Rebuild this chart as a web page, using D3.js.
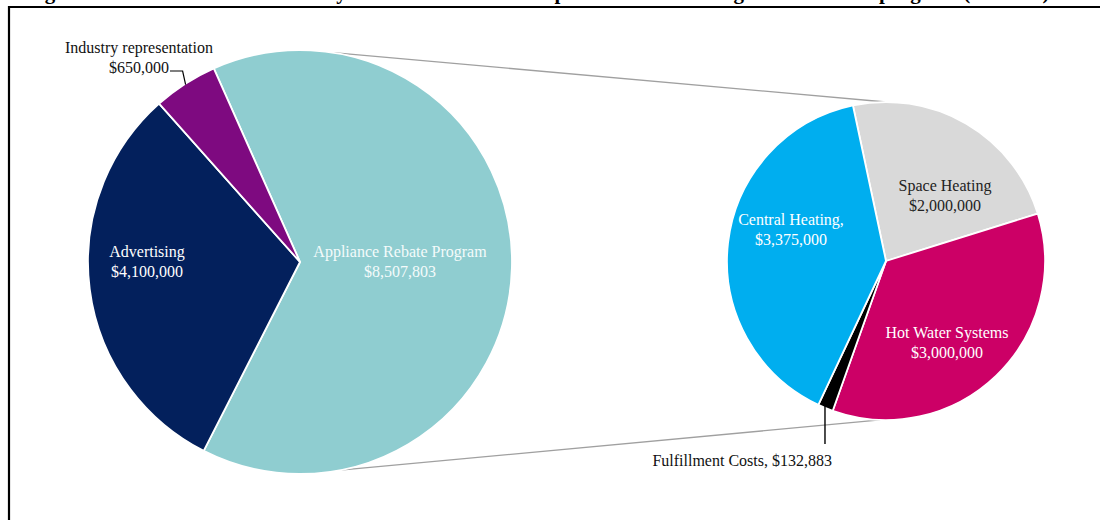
<!DOCTYPE html>
<html>
<head>
<meta charset="utf-8">
<script src="https://cdn.jsdelivr.net/npm/d3@7/dist/d3.min.js"></script>
<style>
  html, body { margin: 0; padding: 0; background: #fff; }
  svg { display: block; }
  text { font-family: "Liberation Serif", "Times New Roman", serif; }
</style>
</head>
<body>
<svg id="chart" width="1100" height="520"></svg>
<script>
// Overall budget split
const overviewCategories = ["Appliance Rebate Program", "Advertising", "Industry representation"];
const overviewValues = [8507803, 4100000, 650000];
const overviewColors = ["#8fcdd0", "#03205c", "#7e0a80"];

// Breakdown of the Appliance Rebate Program
const rebateCategories = ["Space Heating", "Hot Water Systems", "Fulfillment Costs", "Central Heating"];
const rebateValues = [2000000, 3000000, 132883, 3375000];
const rebateColors = ["#d9d9d9", "#cc0066", "#000000", "#00aeef"];

const titleText = "Figure 4: Breakdown of total outlays and of the rebate component of the heating and hot water program (2010–11)";

const svg = d3.select("#chart");
const fmt = d3.format("$,");
const deg = Math.PI / 180;

// frame
svg.append("path")
  .attr("d", "M9,530 L9,7 L1110,7")
  .attr("fill", "none").attr("stroke", "#000").attr("stroke-width", 2.2);

// title, sitting above the frame at the very top of the page
svg.append("text")
  .attr("x", 26).attr("y", -1.5)
  .attr("font-size", 21).attr("font-weight", "bold")
  .attr("fill", "#000")
  .text(titleText);

// pie geometry
const left = { cx: 300, cy: 262, r: 212, start: -24 };
const right = { cx: 886, cy: 261, r: 159, start: -12 };

function pt(p, angleDeg, rad) {
  const a = angleDeg * deg;
  return [p.cx + rad * Math.sin(a), p.cy - rad * Math.cos(a)];
}

// connector lines between the two pies
const connectors = [
  [pt(left, 9, left.r), pt(right, 0, right.r)],
  [pt(left, 169, left.r), pt(right, 182, right.r)]
];
svg.selectAll("line.conn").data(connectors).enter().append("line")
  .attr("class", "conn")
  .attr("x1", d => d[0][0]).attr("y1", d => d[0][1])
  .attr("x2", d => d[1][0]).attr("y2", d => d[1][1])
  .attr("stroke", "#a0a0a0").attr("stroke-width", 1.3);

function drawPie(p, cats, vals, colors) {
  const pie = d3.pie().sort(null).value(d => d.v)
    .startAngle(p.start * deg).endAngle(p.start * deg + 2 * Math.PI);
  const arcs = pie(cats.map((c, i) => ({ c, v: vals[i], color: colors[i] })));
  const arc = d3.arc().innerRadius(0).outerRadius(p.r);
  const g = svg.append("g").attr("transform", `translate(${p.cx},${p.cy})`);
  g.selectAll("path").data(arcs).enter().append("path")
    .attr("d", arc)
    .attr("fill", d => d.data.color)
    .attr("stroke", "#fff").attr("stroke-width", 1.8)
    .attr("stroke-linejoin", "round");
  return { g, arcs };
}

const L = drawPie(left, overviewCategories, overviewValues, overviewColors);
const R = drawPie(right, rebateCategories, rebateValues, rebateColors);

// two-line labels placed relative to each pie centre
function twoLine(p, dx, y1, lines, color) {
  const t = svg.append("text")
    .attr("text-anchor", "middle")
    .attr("font-size", 16).attr("fill", color);
  lines.forEach((s, i) => {
    t.append("tspan").attr("x", p.cx + dx).attr("y", p.cy + y1 + i * 19.5).text(s);
  });
}

twoLine(left, 100, -5, [overviewCategories[0], fmt(overviewValues[0])], "#f4fbfb");
twoLine(left, -153, -5, [overviewCategories[1], fmt(overviewValues[1])], "#ffffff");
twoLine(left, -161, -209, [overviewCategories[2], fmt(overviewValues[2])], "#111");

twoLine(right, 59, -70, [rebateCategories[0], fmt(rebateValues[0])], "#222");
twoLine(right, -95, -36, [rebateCategories[3] + ",", fmt(rebateValues[3])], "#ffffff");
twoLine(right, 61, 77, [rebateCategories[1], fmt(rebateValues[1])], "#ffffff");

// leader for the small overview slice
{
  const a = L.arcs[2];
  const mid = (a.startAngle + a.endAngle) / 2 / deg;
  const e = pt(left, mid, left.r - 1);
  const elbow = [e[0] - 3, left.cy - 191];
  svg.append("polyline")
    .attr("points", [[left.cx - 130, elbow[1]], elbow, e].map(d => d.join(",")).join(" "))
    .attr("fill", "none").attr("stroke", "#000").attr("stroke-width", 1.2);
}

// leader and label for fulfilment costs
{
  const a = R.arcs[2];
  const mid = (a.startAngle + a.endAngle) / 2 / deg;
  const e = pt(right, mid, right.r - 4);
  svg.append("line")
    .attr("x1", e[0] - 2).attr("y1", e[1]).attr("x2", e[0] - 2).attr("y2", right.cy + 183)
    .attr("stroke", "#000").attr("stroke-width", 1.4);
  svg.append("text")
    .attr("x", e[0] + 5).attr("y", right.cy + 205)
    .attr("text-anchor", "end").attr("font-size", 16).attr("fill", "#111")
    .text(`${rebateCategories[2]}, ${fmt(rebateValues[2])}`);
}
</script>
</body>
</html>
